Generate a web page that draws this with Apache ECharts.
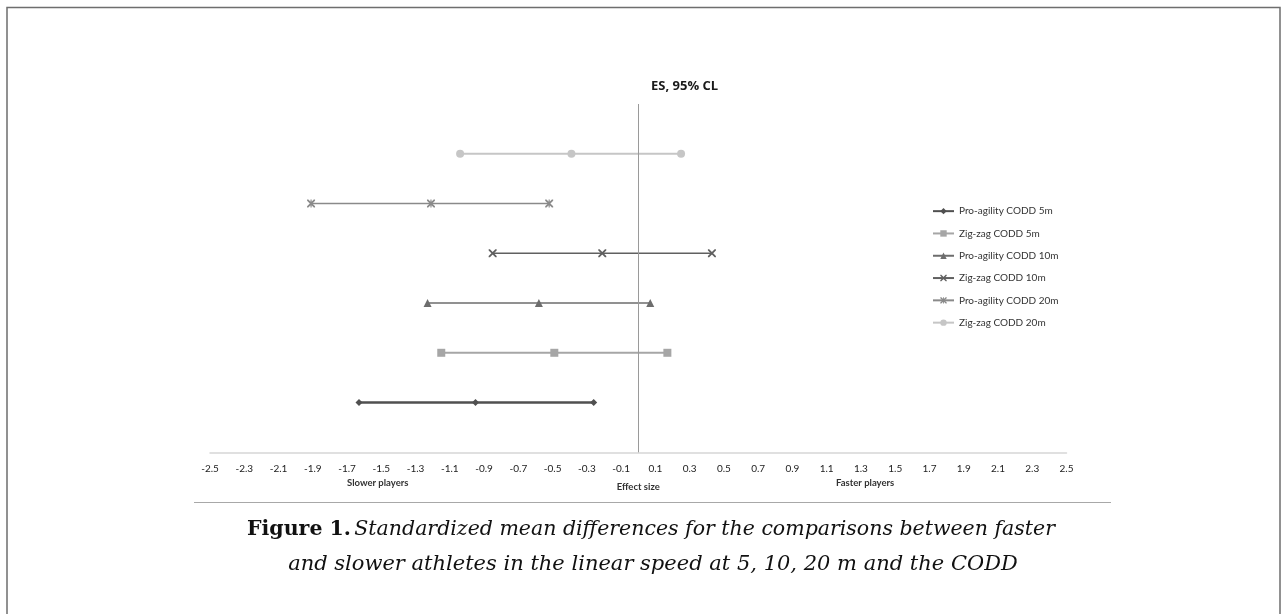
<!DOCTYPE html>
<html>
<head>
<meta charset="utf-8">
<script src="https://cdn.jsdelivr.net/npm/echarts@6/dist/echarts.min.js"></script>
<style>
  html, body { margin: 0; padding: 0; background: #fff; }
  #chart { width: 1287px; height: 614px; }
</style>
</head>
<body>
<div id="chart"></div>
<script>
// 系列名称(图例顺序, 从下往上)
const seriesNames = ['Pro-agility CODD 5m', 'Zig-zag CODD 5m', 'Pro-agility CODD 10m', 'Zig-zag CODD 10m', 'Pro-agility CODD 20m', 'Zig-zag CODD 20m'];
// 每行的纵向位置
const rowPos = [1, 2, 3, 4, 5, 6];
// 效应量及 95% 置信限
const lowerCL = [-1.63, -1.15, -1.23, -0.85, -1.91, -1.04];
const effectSize = [-0.95, -0.49, -0.58, -0.21, -1.21, -0.39];
const upperCL = [-0.26, 0.17, 0.07, 0.43, -0.52, 0.25];
// x轴刻度
const xMin = -2.5;
const xMax = 2.5;
const xStep = 0.2;

// 样式
const colors = ['#505050', '#a6a6a6', '#6d6d6d', '#606060', '#8a8a8a', '#c6c6c6'];
const lineWidths = [2.5, 2, 1.6, 1.6, 1.6, 2];
const xPath = 'path://M0,0 L1.6,0 L10,8.4 L10,10 L8.4,10 L0,1.6 Z M8.4,0 L10,0 L10,1.6 L1.6,10 L0,10 L0,8.4 Z';
const starPath = 'path://M0,0 L1.6,0 L10,8.4 L10,10 L8.4,10 L0,1.6 Z M8.4,0 L10,0 L10,1.6 L1.6,10 L0,10 L0,8.4 Z M4.3,0 L5.7,0 L5.7,10 L4.3,10 Z';
const symbols = ['diamond', 'rect', 'triangle', xPath, starPath, 'circle'];
const symbolSizes = [7, 8, 8, 8, 8, 8];

const series = seriesNames.map((name, i) => ({
  name: name,
  type: 'line',
  data: [[lowerCL[i], rowPos[i]], [effectSize[i], rowPos[i]], [upperCL[i], rowPos[i]]],
  symbol: symbols[i],
  symbolSize: symbolSizes[i],
  color: colors[i],
  lineStyle: { width: lineWidths[i], color: colors[i] },
  itemStyle: { color: colors[i] },
  z: 3
}));
// 零点竖线
series[0].markLine = {
  silent: true,
  symbol: 'none',
  label: { show: false },
  lineStyle: { color: '#9a9a9a', width: 1, type: 'solid' },
  data: [{ xAxis: 0 }]
};

const option = {
  animation: false,
  backgroundColor: '#fff',
  title: {
    text: 'ES, 95% CL',
    left: 646,
    top: 75,
    textStyle: { fontFamily: 'Open Sans', fontWeight: 'bold', fontSize: 13, color: '#1a1a1a' }
  },
  grid: { left: 210, right: 220.5, top: 104, bottom: 161.7 },
  legend: {
    orient: 'vertical',
    left: 927,
    top: 200,
    itemWidth: 21,
    itemHeight: 8,
    itemGap: 10,
    data: seriesNames,
    textStyle: { fontFamily: 'Lato', fontSize: 10, color: '#333', lineHeight: 12.3 }
  },
  xAxis: {
    type: 'value',
    min: xMin,
    max: xMax,
    interval: xStep,
    axisLine: { show: true, lineStyle: { color: '#d6d6d6', width: 1.5 } },
    axisTick: { show: false },
    splitLine: { show: false },
    axisLabel: {
      margin: 11,
      showMinLabel: true,
      showMaxLabel: true,
      fontFamily: 'Lato',
      fontSize: 10,
      color: '#222',
      formatter: v => v.toFixed(1)
    },
    name: 'Effect size',
    nameLocation: 'middle',
    nameGap: 30,
    nameTextStyle: { fontFamily: 'Lato', fontWeight: 'bold', fontSize: 9.5, color: '#333' }
  },
  yAxis: {
    type: 'value',
    min: 0,
    max: 7,
    show: false
  },
  graphic: [
    { type: 'rect', shape: { x: 7, y: 7.5, width: 1273, height: 640 }, style: { fill: 'none', stroke: '#6e6e6e', lineWidth: 1.5 }, silent: true },
    { type: 'text', left: 347, top: 478, style: { text: 'Slower players', font: 'bold 9.5px Lato', fill: '#333' } },
    { type: 'text', left: 836, top: 478, style: { text: 'Faster players', font: 'bold 9.5px Lato', fill: '#333' } },
    { type: 'line', shape: { x1: 194, y1: 502.5, x2: 1111, y2: 502.5 }, style: { stroke: '#a8a8a8', lineWidth: 1.2 }, silent: true },
    {
      type: 'text', x: 651, y: 530,
      style: {
        text: '{b|Figure 1.} {i|Standardized mean differences for the comparisons between faster}',
        align: 'center', verticalAlign: 'middle',
        rich: {
          b: { fontFamily: 'DejaVu Serif', fontWeight: 'bold', fontSize: 20.5, fill: '#111' },
          i: { fontFamily: 'DejaVu Serif', fontStyle: 'italic', fontSize: 20.5, fill: '#111' }
        }
      }
    },
    {
      type: 'text', x: 653, y: 565,
      style: {
        text: 'and slower athletes in the linear speed at 5, 10, 20 m and the CODD',
        align: 'center', verticalAlign: 'middle',
        font: 'italic 21px "DejaVu Serif"', fill: '#111'
      }
    }
  ],
  series: series
};

const chart = echarts.init(document.getElementById('chart'), null, { renderer: 'canvas' });
chart.setOption(option);
</script>
</body>
</html>
